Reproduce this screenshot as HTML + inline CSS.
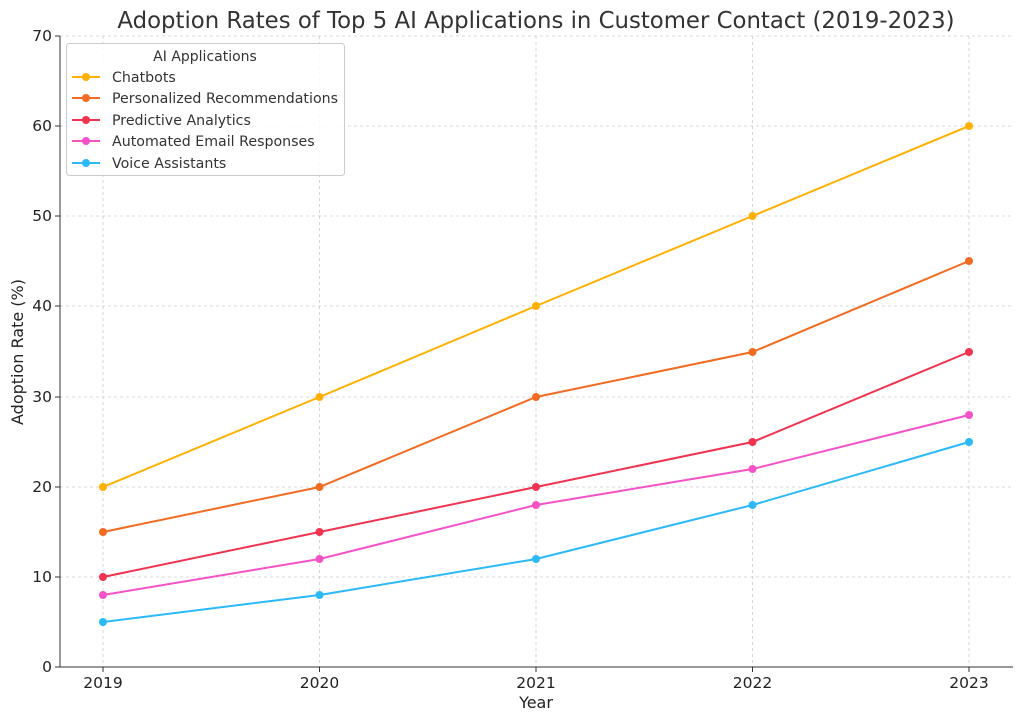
<!DOCTYPE html>
<html><head><style>
body{margin:0;background:#fff;}
svg{display:block;font-family:"DejaVu Sans","Liberation Sans",sans-serif;}
</style></head><body>
<svg width="1023" height="722" viewBox="0 0 1023 722" xmlns="http://www.w3.org/2000/svg">
<rect width="1023" height="722" fill="#fff"/>
<text x="536" y="28" font-size="22.8" text-anchor="middle" fill="#333">Adoption Rates of Top 5 AI Applications in Customer Contact (2019-2023)</text>
<g stroke="#ccc" stroke-dasharray="3,3" stroke-width="0.8">
<line x1="103" y1="36" x2="103" y2="667"/><line x1="319.5" y1="36" x2="319.5" y2="667"/><line x1="536" y1="36" x2="536" y2="667"/><line x1="752.5" y1="36" x2="752.5" y2="667"/><line x1="969" y1="36" x2="969" y2="667"/>
<line x1="60" y1="577" x2="1013" y2="577"/><line x1="60" y1="487" x2="1013" y2="487"/><line x1="60" y1="397" x2="1013" y2="397"/><line x1="60" y1="306" x2="1013" y2="306"/><line x1="60" y1="216" x2="1013" y2="216"/><line x1="60" y1="126" x2="1013" y2="126"/><line x1="60" y1="36" x2="1013" y2="36"/>
</g>
<g stroke="#333" stroke-width="1"><line x1="60" y1="36" x2="60" y2="667"/><line x1="60" y1="667" x2="1013" y2="667"/>
<line x1="55" y1="667" x2="60" y2="667"/><line x1="55" y1="577" x2="60" y2="577"/><line x1="55" y1="487" x2="60" y2="487"/><line x1="55" y1="397" x2="60" y2="397"/><line x1="55" y1="306" x2="60" y2="306"/><line x1="55" y1="216" x2="60" y2="216"/><line x1="55" y1="126" x2="60" y2="126"/><line x1="55" y1="36" x2="60" y2="36"/>
<line x1="103" y1="667" x2="103" y2="672"/><line x1="319.5" y1="667" x2="319.5" y2="672"/><line x1="536" y1="667" x2="536" y2="672"/><line x1="752.5" y1="667" x2="752.5" y2="672"/><line x1="969" y1="667" x2="969" y2="672"/></g>
<g font-size="15.5" fill="#222" text-anchor="end">
<text x="52" y="672">0</text><text x="52" y="582">10</text><text x="52" y="492">20</text><text x="52" y="402">30</text><text x="52" y="311">40</text><text x="52" y="221">50</text><text x="52" y="131">60</text><text x="52" y="41">70</text></g>
<g font-size="15.5" fill="#222" text-anchor="middle">
<text x="103" y="688">2019</text><text x="319.5" y="688">2020</text><text x="536" y="688">2021</text><text x="752.5" y="688">2022</text><text x="969" y="688">2023</text>
<text x="536" y="708" font-size="16">Year</text>
<text transform="translate(23,352) rotate(-90)" font-size="16">Adoption Rate (%)</text></g>
<g fill="none" stroke-width="2">
<polyline stroke="#FFB000" points="103,487 319.5,397 536,306 752.5,216 969,126"/>
<polyline stroke="#F26B21" points="103,532 319.5,487 536,397 752.5,352 969,261"/>
<polyline stroke="#F0334F" points="103,577 319.5,532 536,487 752.5,442 969,352"/>
<polyline stroke="#F652C8" points="103,595 319.5,559 536,505 752.5,469 969,415"/>
<polyline stroke="#2BB9F7" points="103,622 319.5,595 536,559 752.5,505 969,442"/>
</g>
<g fill="#FFB000"><circle cx="103" cy="487" r="4"/><circle cx="319.5" cy="397" r="4"/><circle cx="536" cy="306" r="4"/><circle cx="752.5" cy="216" r="4"/><circle cx="969" cy="126" r="4"/></g>
<g fill="#F26B21"><circle cx="103" cy="532" r="4"/><circle cx="319.5" cy="487" r="4"/><circle cx="536" cy="397" r="4"/><circle cx="752.5" cy="352" r="4"/><circle cx="969" cy="261" r="4"/></g>
<g fill="#F0334F"><circle cx="103" cy="577" r="4"/><circle cx="319.5" cy="532" r="4"/><circle cx="536" cy="487" r="4"/><circle cx="752.5" cy="442" r="4"/><circle cx="969" cy="352" r="4"/></g>
<g fill="#F652C8"><circle cx="103" cy="595" r="4"/><circle cx="319.5" cy="559" r="4"/><circle cx="536" cy="505" r="4"/><circle cx="752.5" cy="469" r="4"/><circle cx="969" cy="415" r="4"/></g>
<g fill="#2BB9F7"><circle cx="103" cy="622" r="4"/><circle cx="319.5" cy="595" r="4"/><circle cx="536" cy="559" r="4"/><circle cx="752.5" cy="505" r="4"/><circle cx="969" cy="442" r="4"/></g>
<rect x="66.5" y="43.5" width="278" height="132" rx="3" fill="#fff" fill-opacity="0.85" stroke="#ccc"/>
<text x="205" y="61" font-size="14" fill="#333" text-anchor="middle">AI Applications</text>
<g font-size="14.2" fill="#333">
<line x1="72" y1="77" x2="100" y2="77" stroke="#FFB000" stroke-width="2"/><circle cx="86" cy="77" r="4" fill="#FFB000"/><text x="112" y="82">Chatbots</text>
<line x1="72" y1="98" x2="100" y2="98" stroke="#F26B21" stroke-width="2"/><circle cx="86" cy="98" r="4" fill="#F26B21"/><text x="112" y="103">Personalized Recommendations</text>
<line x1="72" y1="120" x2="100" y2="120" stroke="#F0334F" stroke-width="2"/><circle cx="86" cy="120" r="4" fill="#F0334F"/><text x="112" y="125">Predictive Analytics</text>
<line x1="72" y1="141" x2="100" y2="141" stroke="#F652C8" stroke-width="2"/><circle cx="86" cy="141" r="4" fill="#F652C8"/><text x="112" y="146">Automated Email Responses</text>
<line x1="72" y1="163" x2="100" y2="163" stroke="#2BB9F7" stroke-width="2"/><circle cx="86" cy="163" r="4" fill="#2BB9F7"/><text x="112" y="168">Voice Assistants</text>
</g>
</svg>
</body></html>
